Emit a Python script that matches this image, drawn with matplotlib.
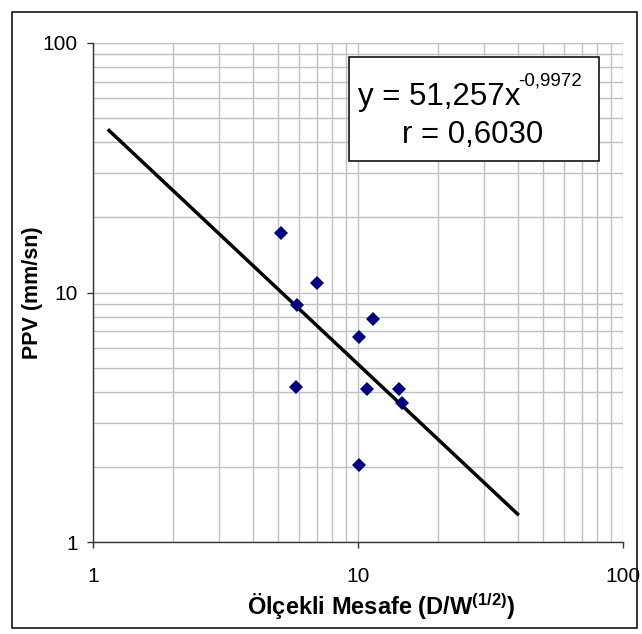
import numpy as np
import matplotlib
matplotlib.use("Agg")
import matplotlib.pyplot as plt
from matplotlib.patches import Rectangle
from matplotlib.ticker import LogLocator, FixedLocator, FixedFormatter

plt.rcParams['font.family'] = ['Liberation Sans', 'DejaVu Sans']
plt.rcParams['mathtext.fontset'] = 'custom'
plt.rcParams['mathtext.rm'] = 'Liberation Sans'
plt.rcParams['mathtext.bf'] = 'Liberation Sans:bold'
plt.rcParams['mathtext.it'] = 'Liberation Sans:italic'

# Data
scaled_distance = [5.12, 7.00, 5.90, 11.4, 10.1, 5.82, 10.8, 14.3, 14.6, 10.1]
ppv = [17.3, 10.9, 8.91, 7.81, 6.63, 4.18, 4.09, 4.11, 3.60, 2.03]
fit_a = 51.257
fit_b = -0.9972
fit_range = [1.15, 40.0]
x_ticks = [1, 10, 100]
x_ticklabels = ['1', '10', '100']
y_ticks = [1, 10, 100]
y_ticklabels = ['1', '10', '100']
eq_text = 'y = 51,257x'
eq_exp = '-0,9972'
r_text = 'r = 0,6030'

W, H = 642, 634
fig = plt.figure(figsize=(W / 100, H / 100), dpi=100)

def fx(px):
    return px / W

def fy(py):
    return 1 - py / H

ax = fig.add_axes([fx(93), fy(542), fx(623) - fx(93), fy(43) - fy(542)])
ax.set_xscale('log')
ax.set_yscale('log')
ax.set_xlim(1, 100)
ax.set_ylim(1, 100)

grid_c = '#c0c0c0'
ax.xaxis.set_major_locator(FixedLocator(x_ticks))
ax.xaxis.set_major_formatter(FixedFormatter(x_ticklabels))
ax.yaxis.set_major_locator(FixedLocator(y_ticks))
ax.yaxis.set_major_formatter(FixedFormatter(y_ticklabels))
ax.xaxis.set_minor_locator(LogLocator(base=10, subs=np.arange(2, 10)))
ax.yaxis.set_minor_locator(LogLocator(base=10, subs=np.arange(2, 10)))
ax.xaxis.set_minor_formatter(plt.NullFormatter())
ax.yaxis.set_minor_formatter(plt.NullFormatter())
ax.grid(True, which='both', color=grid_c, linewidth=1.0)
ax.set_axisbelow(True)
ax.tick_params(which='major', direction='out', length=4, width=1.0, color='#333333',
               labelsize=15)
ax.tick_params(axis='x', which='major', pad=14)
ax.tick_params(axis='y', which='major', pad=7)
ax.tick_params(which='minor', length=0)
for s in ['top', 'right']:
    ax.spines[s].set_visible(False)
for s in ['left', 'bottom']:
    ax.spines[s].set_color('#333333')
    ax.spines[s].set_linewidth(1.0)

xf = np.logspace(np.log10(fit_range[0]), np.log10(fit_range[1]), 200)
ax.plot(xf, fit_a * xf ** fit_b, color='black', linewidth=2.5, zorder=3)
ax.plot(scaled_distance, ppv, linestyle='none', marker='D', markersize=7,
        color='#000080', markeredgewidth=0, zorder=4)

ax.set_xlabel('Ölçekli Mesafe (D/W$^{\\mathbf{(1/2)}}$)', fontsize=17, fontweight='bold',
              va='center')
ax.xaxis.set_label_coords((381 - 93) / 530, -(607 - 542) / 499)
ax.set_ylabel('PPV (mm/sn)', fontsize=15.5, fontweight='bold', va='center')
ax.yaxis.set_label_coords((33 - 93) / 530, 0.5)

# Equation box
fig.patches.append(Rectangle((fx(349), fy(161)), fx(599) - fx(349), fy(57) - fy(161),
                             transform=fig.transFigure, facecolor='white',
                             edgecolor='black', linewidth=1.1, zorder=5))
fig.text(fx(358), fy(105), eq_text, fontsize=22.5, ha='left', va='baseline', zorder=6)
fig.text(fx(518), fy(86), eq_exp, fontsize=13.5, ha='left', va='baseline', zorder=6)
fig.text(fx(473), fy(143), r_text, fontsize=22.5, ha='center', va='baseline', zorder=6)

# Outer border
fig.patches.append(Rectangle((fx(12), fy(628)), fx(637) - fx(12), fy(12) - fy(628),
                             transform=fig.transFigure, facecolor='none',
                             edgecolor='black', linewidth=1.1, zorder=5))

fig.savefig('out.png', dpi=100)
